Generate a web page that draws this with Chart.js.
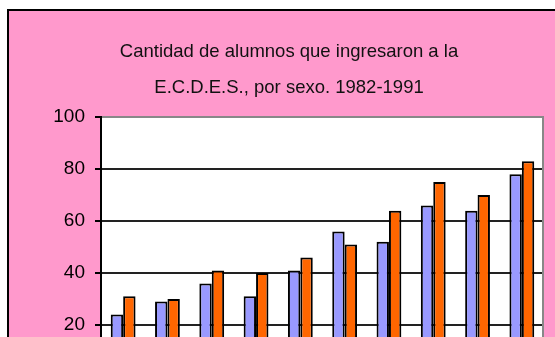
<!DOCTYPE html>
<html>
<head>
<meta charset="utf-8">
<script src="https://cdn.jsdelivr.net/npm/chart.js@4"></script>
<style>
  html, body { margin: 0; padding: 0; background: #fff; overflow: hidden; }
  #box {
    position: absolute; left: 7px; top: 9px;
    width: 570px; height: 451px;
    border: 2px solid #000;
    background: #ff99cc;
  }
  #inner { position: absolute; left: 0; top: 0; width: 535px; height: 451px; }
</style>
</head>
<body>
<div id="box"><div id="inner"><canvas id="myChart"></canvas></div></div>
<script>
'use strict';

let years = ['1982', '1983', '1984', '1985', '1986', '1987', '1988', '1989', '1990', '1991'];
let hombres = [24, 29, 36, 31, 41, 56, 52, 66, 64, 78];
let mujeres = [31, 30, 41, 40, 46, 51, 64, 75, 70, 83];
let yTicks = [0, 20, 40, 60, 80, 100];

// white plot area with grey frame on the right
let plotBg = {
  id: 'plotBg',
  beforeDraw(chart) {
    let a = chart.chartArea;
    let ctx = chart.ctx;
    ctx.save();
    ctx.fillStyle = '#fff';
    ctx.fillRect(a.left, a.top, a.right - a.left, a.bottom - a.top);
    ctx.restore();
  },
  afterDraw(chart) {
    let a = chart.chartArea;
    let ctx = chart.ctx;
    ctx.save();
    ctx.strokeStyle = '#888';
    ctx.lineWidth = 2;
    ctx.beginPath();
    ctx.moveTo(a.right - 1, a.top);
    ctx.lineTo(a.right - 1, a.bottom);
    ctx.stroke();
    ctx.restore();
  }
};

let ctx = document.getElementById('myChart').getContext('2d');

let myChart = new Chart(ctx, {
  type: 'bar',
  data: {
    labels: years,
    datasets: [{
      label: 'Hombres',
      data: hombres,
      backgroundColor: '#9999ff',
      borderColor: '#000',
      borderWidth: 2,
      borderSkipped: 'bottom'
    }, {
      label: 'Mujeres',
      data: mujeres,
      backgroundColor: '#ff6600',
      borderColor: '#000',
      borderWidth: 2,
      borderSkipped: 'bottom'
    }]
  },
  options: {
    responsive: true,
    maintainAspectRatio: false,
    animation: false,
    categoryPercentage: 0.56,
    barPercentage: 1.0,
    layout: { padding: { left: 25, right: 0, top: 0, bottom: 30 } },
    plugins: {
      legend: { display: false },
      tooltip: { enabled: false },
      title: {
        display: true,
        text: ['Cantidad de alumnos que ingresaron a la', 'E.C.D.E.S., por sexo. 1982-1991'],
        color: '#111',
        font: { family: 'Liberation Sans, Arial, sans-serif', size: 18.5, weight: 'normal', lineHeight: 1.95 },
        padding: { top: 23, bottom: 11 }
      }
    },
    scales: {
      x: {
        grid: { display: false },
        border: { display: false },
        ticks: { color: '#000', font: { family: 'Liberation Sans, Arial, sans-serif', size: 18 } }
      },
      y: {
        min: 0,
        max: 100,
        afterBuildTicks(scale) {
          scale.ticks = yTicks.map(v => ({ value: v }));
        },
        afterFit(scale) {
          scale.width = 67;
        },
        grid: {
          color: c => (c.tick && c.tick.value === 100) ? '#888' : '#222',
          lineWidth: 2,
          tickLength: 6,
          tickColor: '#000'
        },
        border: { color: '#000', width: 2 },
        ticks: {
          color: '#000',
          padding: 10,
          font: { family: 'Liberation Sans, Arial, sans-serif', size: 19 }
        }
      }
    }
  },
  plugins: [plotBg]
});
</script>
</body>
</html>
